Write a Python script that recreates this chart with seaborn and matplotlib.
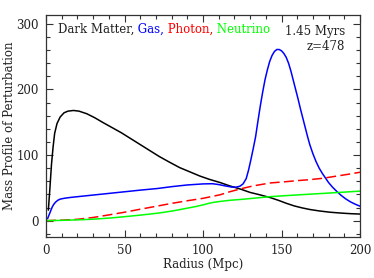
import numpy as np
import pandas as pd
import matplotlib
matplotlib.use("Agg")
import matplotlib.pyplot as plt
import seaborn as sns
from matplotlib.ticker import MultipleLocator

# Dark matter profile (black)
dm_r = [1.5, 2.5, 3.5, 4.5, 5.5, 7, 9, 11.5, 14, 17.5, 21, 26, 31, 36, 42, 48, 54, 60, 66, 72,
        78, 85, 92, 98, 104, 111, 117, 124, 130, 136, 143, 148, 153, 158, 163, 168, 174, 181,
        188, 194, 200]
dm_v = [16, 50, 86, 112, 133, 148, 158, 164.5, 167, 168, 167, 163, 157, 150, 142, 134, 125,
        116, 107, 98, 90, 81, 74, 68, 63, 58, 53, 48, 43, 39.5, 35, 31, 26.5, 22.5, 19.5, 17,
        14.8, 12.8, 11.5, 10.6, 10]

# Gas profile (blue)
gas_r = [1, 2, 3, 4, 5, 6, 7.5, 9, 11.5, 15, 20, 30, 40, 50, 60, 71, 80, 90, 100, 106, 110,
         114, 118, 121, 123.5, 125.5, 127.5, 129, 130.5, 132, 133.5, 135, 136.5, 138, 139.5,
         141, 142.5, 144, 145.5, 147, 148.5, 150, 151.5, 153, 154.5, 156, 157.5, 159, 160.5,
         162, 163.5, 165, 166.5, 168, 170, 172, 174, 176, 178, 180, 182.5, 185, 188, 191,
         194, 197, 200]
gas_v = [3, 9, 15, 21, 25, 28, 31, 32.8, 34, 35.2, 36.5, 39, 41.5, 44, 46.5, 49, 51.8, 54.4,
         56, 56.3, 55, 53, 51.3, 51, 52.5, 56, 64, 77, 93, 110, 128, 152, 175, 196, 215, 230,
         243, 252, 258, 261, 261, 259, 255, 249, 240, 228, 214, 200, 186, 171, 157, 143, 129,
         116, 102, 90, 80, 72, 65, 58, 51, 45, 38.5, 33, 28.5, 25, 22]

# Photon profile (red, dashed)
ph_r = [0, 10, 20, 30, 40, 50, 60, 70, 80, 90, 100, 105, 111, 117, 124, 132, 143, 151, 160,
        168, 176, 184, 192, 200]
ph_v = [0, 0.7, 2, 4.8, 8.7, 12.8, 17.4, 21.8, 26.3, 30.3, 34, 36.5, 39.5, 44, 48.5, 53, 57.5,
        59, 61, 62.5, 64.5, 67.5, 70.5, 73.8]

# Neutrino profile (green)
nu_r = [0, 10, 20, 30, 40, 50, 60, 71, 80, 90, 96, 100, 104, 107, 111, 117, 125, 143, 160,
        180, 200]
nu_v = [0, 0.4, 1.2, 2.2, 3.8, 6, 8.4, 11.3, 14.5, 19, 21.8, 24, 26.5, 28, 29.3, 31, 32.5,
        36.6, 39.2, 42, 45]

sns.set_style("ticks")
plt.rcParams['font.family'] = ['DejaVu Serif']
plt.rcParams['font.size'] = 8

fig = plt.figure(figsize=(3.74, 2.78), dpi=100)
ax = fig.add_axes([0.123, 0.146, 0.8396, 0.80])

lw = 1.1
sns.lineplot(x=dm_r, y=dm_v, color='black', lw=lw, ax=ax, estimator=None)
sns.lineplot(x=gas_r, y=gas_v, color='#0000ff', lw=lw, ax=ax, estimator=None)
sns.lineplot(x=ph_r, y=ph_v, color='#ff0000', lw=lw, ax=ax, estimator=None,
             linestyle=(0, (6.5, 2.8)))
sns.lineplot(x=nu_r, y=nu_v, color='#00ff00', lw=lw, ax=ax, estimator=None)

ax.set_xlim(0, 200)
ax.set_ylim(-25.6, 313.6)
ax.xaxis.set_major_locator(MultipleLocator(50))
ax.xaxis.set_minor_locator(MultipleLocator(10))
ax.yaxis.set_major_locator(MultipleLocator(100))
ax.yaxis.set_minor_locator(MultipleLocator(20))
ax.tick_params(which='both', direction='in', top=True, right=True, width=0.8,
               color='#333333', labelsize=8.5, labelcolor='#222222')
ax.tick_params(which='major', length=5)
ax.tick_params(which='minor', length=2.8)
ax.tick_params(axis='x', pad=4.5)
ax.tick_params(axis='y', pad=5)
for s in ax.spines.values():
    s.set_linewidth(0.9)
    s.set_color('#333333')

ax.set_xlabel('Radius (Mpc)', fontsize=8.5, color='#222222')
ax.set_ylabel('Mass Profile of Perturbation', fontsize=8.5, color='#222222')
ax.xaxis.set_label_coords(0.5, -0.092)
ax.yaxis.set_label_coords(-0.0955, 0.5)

# legend-like coloured title
t = ax.text(0.037, 0.935, 'Dark Matter,', transform=ax.transAxes, color='#222222',
            fontsize=8.5, va='center', ha='left')
for word, c in [(' Gas,', '#0000ff'), (' Photon,', '#ff0000'), (' Neutrino', '#00ff00')]:
    t = ax.annotate(word, xy=(1, 0), xycoords=t, color=c, fontsize=8.5,
                    va='bottom', ha='left')

ax.text(0.953, 0.926, '1.45 Myrs', transform=ax.transAxes, ha='right', va='center',
        fontsize=8.5, color='#222222')
ax.text(0.953, 0.86, 'z=478', transform=ax.transAxes, ha='right', va='center',
        fontsize=8.5, color='#222222')

fig.savefig('out.png', dpi=100)
